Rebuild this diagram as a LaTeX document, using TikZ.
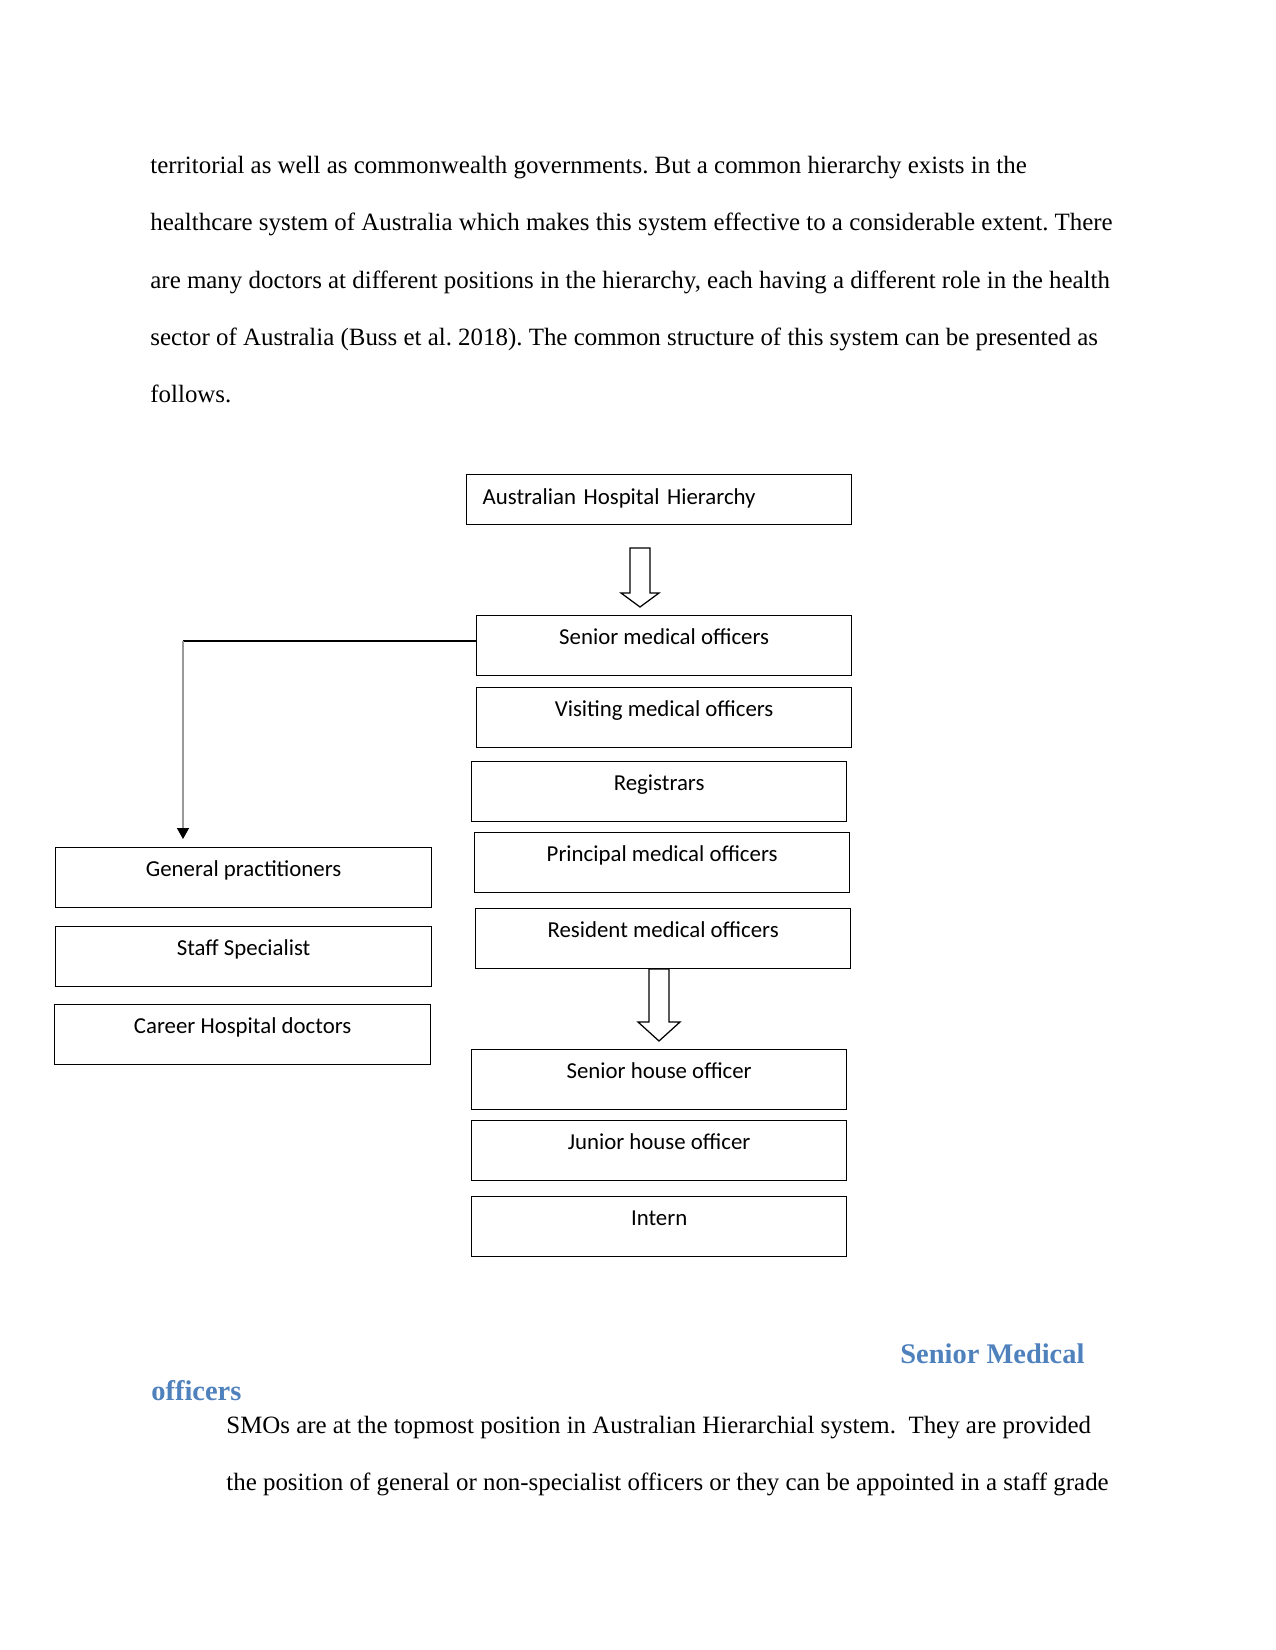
\documentclass[tikz,border=0pt]{standalone}
\usepackage{fontspec}
\setmainfont{Liberation Serif}
\newfontfamily\boxfont{Carlito}
\usetikzlibrary{arrows.meta}
\definecolor{hdblue}{HTML}{4F81BD}
\frenchspacing
\tikzset{
 bx/.style={draw,line width=0.6pt,anchor=north west,inner sep=0pt,minimum width=180.68pt,
  minimum height=28.91pt,text height=13.97pt,text depth=14.94pt,
  font=\boxfont\fontsize{11pt}{13pt}\selectfont},
 tx/.style={anchor=base west,inner sep=0pt,font=\fontsize{12pt}{14pt}\selectfont},
 hd/.style={anchor=base west,inner sep=0pt,text=hdblue,font=\fontsize{13.7pt}{16pt}\selectfont\bfseries},
 ar/.style={draw,fill=white,line width=0.6pt,line join=miter}}
\begin{document}
\begin{tikzpicture}[x=0.4818pt,y=-0.4818pt]
 \useasboundingbox (0,0) rectangle (1275,1650);
 % running text above
 \node[tx] (l1) at (150,173.5) {territorial as well as commonwealth governments. But a common hierarchy exists in the};
 \node[tx] (l2) at (150,231) {healthcare system of Australia which makes this system effective to a considerable extent. There};
 \node[tx] (l3) at (150,288.5) {are many doctors at different positions in the hierarchy, each having a different role in the health};
 \node[tx] (l4) at (150,346) {sector of Australia (Buss et al. 2018). The common structure of this system can be presented as};
 \node[tx] (l5) at (150,403) {follows.};
 % right column
 \node[bx,minimum width=185.5pt,minimum height=24.09pt,text height=14.45pt,text depth=9.64pt,
  text width=170.08pt,inner xsep=7.71pt,align=left] (ahh) at (466,474) {Australian Hospital Hierarchy};
 \node[bx] (smo) at (476,615) {Senior medical officers};
 \node[bx] (vmo) at (476,687) {Visiting medical officers};
 \node[bx] (reg) at (471,761) {Registrars};
 \node[bx] (pmo) at (474,832) {Principal medical officers};
 \node[bx] (rmo) at (475,908) {Resident medical officers};
 \node[bx] (sho) at (471,1049) {Senior house officer};
 \node[bx] (jho) at (471,1120) {Junior house officer};
 \node[bx] (int) at (471,1196) {Intern};
 % left column
 \node[bx,minimum width=181.16pt] (gp) at (55,847) {General practitioners};
 \node[bx,minimum width=181.16pt] (ss) at (55,926) {Staff Specialist};
 \node[bx,minimum width=181.16pt] (chd) at (54,1004) {Career Hospital doctors};
 % block arrows
 \draw[ar] (630,548) -- (650,548) -- (650,593) -- (659,593) -- (640,607) -- (621,593) -- (630,593) -- cycle;
 \draw[ar] (649,969) -- (669,969) -- (669,1022) -- (680,1022) -- (659,1041) -- (638,1022) -- (649,1022) -- cycle;
 % connector to the left column
 \coordinate (bend) at (183,641);
 \coordinate (gpin) at (183,839);
 \draw[line width=0.6pt] (smo.west |- bend) -- (bend);
 \draw[gray!80,line width=0.6pt,-{Triangle[width=5.8pt,length=5.3pt,color=black,fill=black]}] (bend) -- (gpin);
 % heading and text below
 \node[hd] (h1) at (900,1363) {Senior Medical};
 \node[hd] (h2) at (151,1400) {officers};
 \node[tx] (p1) at (226,1433) {SMOs are at the topmost position in Australian Hierarchial system.\ \ They are provided};
 \node[tx] (p2) at (226,1490) {the position of general or non-specialist officers or they can be appointed in a staff grade};
\end{tikzpicture}
\end{document}
